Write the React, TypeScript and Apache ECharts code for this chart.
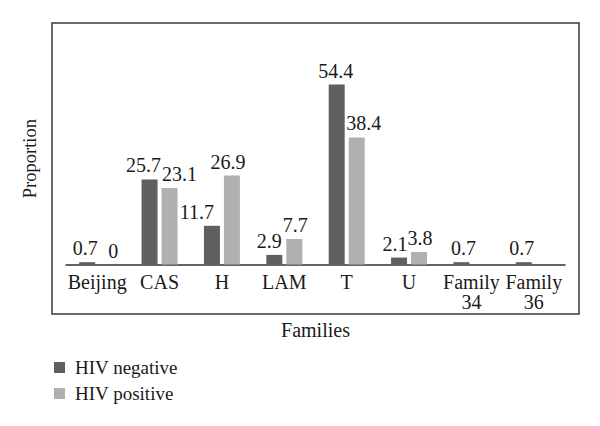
import React, { useEffect, useRef } from "react";
import * as echarts from "echarts";

const categories = ["Beijing", "CAS", "H", "LAM", "T", "U", "Family\n34", "Family\n36"];
const hivNegative = [0.7, 25.7, 11.7, 2.9, 54.4, 2.1, 0.7, 0.7];
const hivPositive: (number | null)[] = [0, 23.1, 26.9, 7.7, 38.4, 3.8, null, null];

// label horizontal nudges (styling only)
const negOffsets = [-2, -6, -15, -5, -1, -4, 2, -2];
const posOffsets = [6, 10, -4, 1, 7, 1, 0, 0];

const FONT = "Liberation Serif";
const TEXT = "#1a1a1a";

export default function App() {
  const ref = useRef<HTMLDivElement>(null);
  useEffect(() => {
    if (!ref.current) return;
    const chart = echarts.init(ref.current, null, { renderer: "svg" });
    const mk = (vals: (number | null)[], offs: number[]) =>
      vals.map((v, i) => ({ value: v, label: { offset: [offs[i], 0] } }));
    chart.setOption({
      animation: false,
      backgroundColor: "#ffffff",
      textStyle: { fontFamily: FONT },
      grid: { left: 66, right: 35, top: 52.8, height: 211.7 },
      xAxis: {
        type: "category",
        data: categories,
        axisLine: { show: true, lineStyle: { color: "#333", width: 1.5 } },
        axisTick: { show: false },
        axisLabel: { color: TEXT, fontSize: 20, fontFamily: FONT, margin: 7, lineHeight: 20, interval: 0 },
        name: "Families",
        nameLocation: "middle",
        nameGap: 55,
        nameTextStyle: { color: TEXT, fontSize: 20, fontFamily: FONT },
      },
      yAxis: {
        type: "value",
        min: 0,
        max: 64,
        axisLine: { show: false },
        axisTick: { show: false },
        axisLabel: { show: false },
        splitLine: { show: false },
        name: "Proportion",
        nameLocation: "middle",
        nameGap: 27,
        nameRotate: 90,
        nameTextStyle: { color: TEXT, fontSize: 18.5, fontFamily: FONT },
      },
      legend: {
        orient: "vertical",
        left: 49,
        top: 353,
        itemWidth: 11,
        itemHeight: 11,
        itemGap: 7,
        icon: "rect",
        textStyle: { color: TEXT, fontSize: 19, fontFamily: FONT, lineHeight: 19, padding: [0, 0, 0, 5] },
        data: ["HIV negative", "HIV positive"],
      },
      graphic: [
        {
          type: "rect",
          shape: { x: 52, y: 23, width: 527, height: 291 },
          style: { fill: "none", stroke: "#3a3a3a", lineWidth: 1.5 },
          silent: true,
        },
      ],
      series: [
        {
          name: "HIV negative",
          type: "bar",
          data: mk(hivNegative, negOffsets),
          barWidth: 16,
          barGap: "25%",
          itemStyle: { color: "#5f5f5f" },
          label: { show: true, position: "top", distance: 4, color: TEXT, fontSize: 20, fontFamily: FONT },
        },
        {
          name: "HIV positive",
          type: "bar",
          data: mk(hivPositive, posOffsets),
          barWidth: 16,
          barGap: "25%",
          itemStyle: { color: "#b0b0b0" },
          label: { show: true, position: "top", distance: 4, color: TEXT, fontSize: 20, fontFamily: FONT },
        },
      ],
    });
    return () => chart.dispose();
  }, []);
  return <div ref={ref} style={{ width: 600, height: 426, position: "absolute", left: 0, top: 0 }} />;
}
